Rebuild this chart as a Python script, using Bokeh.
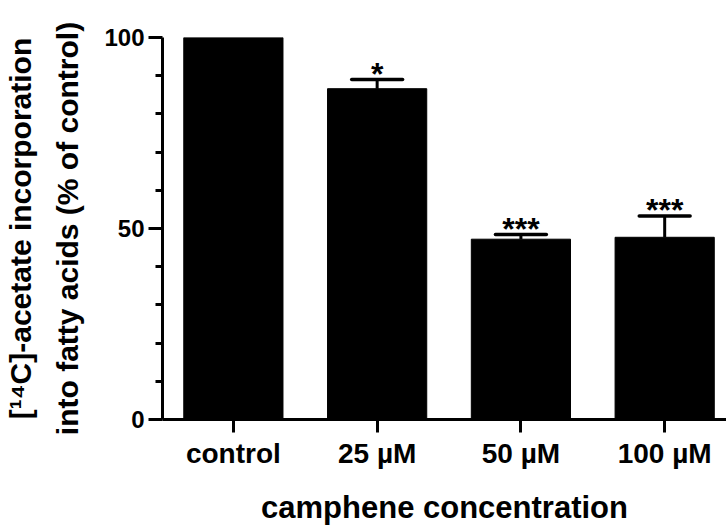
from bokeh.plotting import figure
from bokeh.models import Range1d, FixedTicker, LinearAxis
from bokeh.embed import file_html
from bokeh.resources import INLINE
from bokeh.core.properties import value

categories = ["control", "25 µM", "50 µM", "100 µM"]
means = [100.0, 86.6, 47.2, 47.7]
errors = [0.0, 2.4, 1.2, 5.6]
stars = ["", "*", "***", "***"]
y_ticks = [0, 50, 100]
y_minor_ticks = [10, 20, 30, 40, 60, 70, 80, 90]
y_title_1 = "[¹⁴C]-acetate incorporation"
y_title_2 = "into fatty acids (% of control)"
x_title = "camphene concentration"

FONT = "Liberation Sans"
xs = list(range(len(categories)))

p = figure(width=726, height=527, output_backend="svg", toolbar_location=None,
           x_range=Range1d(-0.493, 3.43), y_range=Range1d(0, 100),
           min_border_left=161, min_border_right=0, min_border_top=37,
           min_border_bottom=107)
p.outline_line_color = None
p.grid.visible = False

p.vbar(x=xs, top=means, width=0.69, fill_color="black", line_color="black")

idx = [i for i in xs if errors[i] > 0]
ex = [xs[i] for i in idx]
elo = [means[i] for i in idx]
ehi = [means[i] + errors[i] for i in idx]
cap = 0.177
p.segment(x0=ex, y0=elo, x1=ex, y1=ehi, line_color="black", line_width=3)
p.segment(x0=[x - cap for x in ex], y0=ehi, x1=[x + cap for x in ex], y1=ehi,
          line_color="black", line_width=3.5, line_cap="round")
p.text(x=ex, y=ehi, text=[stars[i] for i in idx], text_align="center",
       text_baseline="alphabetic", y_offset=-6, text_font=value(FONT),
       text_font_style="bold", text_font_size="32px", text_color="black")

xa = p.xaxis[0]
xa.ticker = FixedTicker(ticks=xs)
xa.major_label_overrides = {i: c for i, c in enumerate(categories)}
xa.major_label_text_font = FONT
xa.major_label_text_font_style = "bold"
xa.major_label_text_font_size = "28px"
xa.major_label_text_color = "black"
xa.major_label_standoff = 5
xa.major_tick_in = 0
xa.major_tick_out = 13
xa.major_tick_line_width = 3
xa.minor_tick_line_color = None
xa.axis_line_width = 3
xa.axis_label = x_title
xa.axis_label_text_font = FONT
xa.axis_label_text_font_style = "bold"
xa.axis_label_text_font_size = "31px"
xa.axis_label_text_color = "black"
xa.axis_label_standoff = 18

ya = p.yaxis[0]
ya.ticker = FixedTicker(ticks=y_ticks, minor_ticks=y_minor_ticks)
ya.major_label_text_font = FONT
ya.major_label_text_font_style = "bold"
ya.major_label_text_font_size = "24px"
ya.major_label_text_color = "black"
ya.major_label_standoff = 4
ya.major_tick_in = 0
ya.major_tick_out = 14
ya.major_tick_line_width = 3
ya.minor_tick_in = 0
ya.minor_tick_out = 7
ya.minor_tick_line_width = 3
ya.axis_line_width = 3
ya.axis_label = y_title_2
ya.axis_label_text_font = FONT
ya.axis_label_text_font_style = "bold"
ya.axis_label_text_font_size = "30px"
ya.axis_label_text_color = "black"
ya.axis_label_standoff = 17

ya2 = LinearAxis(ticker=FixedTicker(ticks=[]), axis_line_color=None,
                 major_tick_line_color=None, minor_tick_line_color=None,
                 major_tick_out=0, major_tick_in=0, minor_tick_out=0,
                 minor_tick_in=0, major_label_standoff=0,
                 axis_label=y_title_1, axis_label_standoff=12,
                 axis_label_text_font=FONT, axis_label_text_font_style="bold",
                 axis_label_text_font_size="30px", axis_label_text_color="black")
p.add_layout(ya2, "left")

open("out.html", "w").write(file_html(p, INLINE))
